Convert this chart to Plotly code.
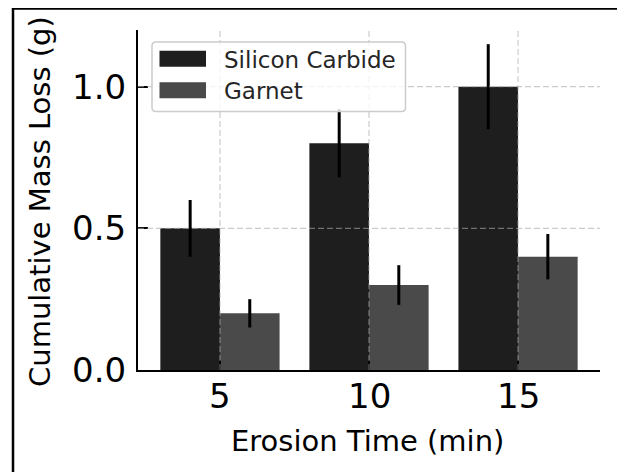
import plotly.graph_objects as go

# ---- data ----
categories = ["5", "10", "15"]
sic_values = [0.5, 0.8, 1.0]
sic_errors = [0.10, 0.12, 0.15]
garnet_values = [0.2, 0.3, 0.4]
garnet_errors = [0.05, 0.07, 0.08]
series_names = ["Silicon Carbide", "Garnet"]
y_ticks = [0.0, 0.5, 1.0]

FONT = "DejaVu Sans"
SIC_COLOR = "#1e1e1e"
GAR_COLOR = "#4a4a4a"

OFF = 8  # page body margin offset
W, H = 625, 472
PLOT_L, PLOT_R, PLOT_T, PLOT_B = 138, 600, 30, 370  # screen px of plot area
L = PLOT_L - OFF
T = PLOT_T - OFF
PW, PH = PLOT_R - PLOT_L, PLOT_B - PLOT_T
R = W - L - PW
B = H - T - PH

def px_x(px):
    return (px - PLOT_L) / PW

def px_y(py):
    return (PLOT_B - py) / PH

positions = list(range(len(categories)))

fig = go.Figure()
fig.add_trace(go.Bar(
    x=positions, y=sic_values, name=series_names[0],
    marker=dict(color=SIC_COLOR, line=dict(width=0)),
    error_y=dict(type="data", array=sic_errors, color="black", thickness=3, width=0),
))
fig.add_trace(go.Bar(
    x=positions, y=garnet_values, name=series_names[1],
    marker=dict(color=GAR_COLOR, line=dict(width=0)),
    error_y=dict(type="data", array=garnet_errors, color="black", thickness=3, width=0),
))

shapes = []
grid_line = dict(color="rgba(170,170,170,0.6)", width=1.2, dash="6px,3px")
for p in positions:
    shapes.append(dict(type="line", xref="x", yref="paper", x0=p, x1=p, y0=0, y1=1,
                       line=grid_line, layer="above"))
for v in y_ticks:
    if v > 0:
        shapes.append(dict(type="line", xref="paper", yref="y", x0=0, x1=1, y0=v, y1=v,
                           line=grid_line, layer="above"))

# legend box (rounded)
x0, x1 = px_x(152), px_x(405.5)
y0, y1 = px_y(111.5), px_y(42)
rx, ry = 4 / PW, 4 / PH
path = (f"M{x0+rx},{y1} L{x1-rx},{y1} Q{x1},{y1} {x1},{y1-ry} "
        f"L{x1},{y0+ry} Q{x1},{y0} {x1-rx},{y0} L{x0+rx},{y0} Q{x0},{y0} {x0},{y0+ry} "
        f"L{x0},{y1-ry} Q{x0},{y1} {x0+rx},{y1} Z")
shapes.append(dict(type="path", xref="paper", yref="paper", path=path,
                   fillcolor="rgba(255,255,255,0.8)", line=dict(color="#cccccc", width=1.5),
                   layer="above"))
legend_rows = [(series_names[0], SIC_COLOR, 50.7, 66.7, 59.5),
               (series_names[1], GAR_COLOR, 82.3, 98.3, 91)]
annotations = []
for name, col, ya, yb, yc in legend_rows:
    shapes.append(dict(type="rect", xref="paper", yref="paper",
                       x0=px_x(159.5), x1=px_x(206), y0=px_y(yb), y1=px_y(ya),
                       fillcolor=col, line=dict(width=0), layer="above"))
    annotations.append(dict(text=name, xref="paper", yref="paper", x=px_x(222), y=px_y(yc),
                            xanchor="left", yanchor="middle", showarrow=False,
                            font=dict(family=FONT, size=23, color="#262626")))

# x tick labels (placed at the category positions)
for p, lab in zip(positions, categories):
    annotations.append(dict(text=lab, xref="x", yref="paper", x=p, y=px_y(396),
                            xanchor="center", yanchor="middle", showarrow=False,
                            font=dict(family=FONT, size=34, color="black")))

# figure frame
shapes.append(dict(type="rect", xref="paper", yref="paper",
                   x0=px_x(13), x1=px_x(620), y0=px_y(500), y1=px_y(8.5),
                   line=dict(color="black", width=2.5), fillcolor="rgba(0,0,0,0)", layer="above"))

# axis titles
annotations.append(dict(text="Erosion Time (min)", xref="paper", yref="paper",
                        x=px_x(367.5), y=px_y(441), xanchor="center", yanchor="middle",
                        showarrow=False, font=dict(family=FONT, size=29, color="black")))
annotations.append(dict(text="Cumulative Mass Loss (g)", xref="paper", yref="paper",
                        x=px_x(40), y=px_y(202), xanchor="center", yanchor="middle",
                        textangle=-90, showarrow=False,
                        font=dict(family=FONT, size=29, color="black")))

fig.update_layout(
    width=W, height=H,
    margin=dict(l=L, r=R, t=T, b=B, pad=0),
    paper_bgcolor="white", plot_bgcolor="white",
    barmode="group", bargap=0.2, bargroupgap=0,
    showlegend=False,
    shapes=shapes, annotations=annotations,
    font=dict(family=FONT, color="black"),
)
fig.update_xaxes(
    range=[-0.55, 2.55], tickvals=positions, showticklabels=False,
    showgrid=False, zeroline=False,
    showline=True, linecolor="black", linewidth=2,
    ticks="inside", ticklen=10, tickwidth=1.5, tickcolor="black",
    layer="above traces",
)
fig.update_yaxes(
    range=[0, 1.2], tickvals=y_ticks, ticktext=[f"{v:.1f}" for v in y_ticks],
    showgrid=False, zeroline=False,
    showline=True, linecolor="black", linewidth=2,
    ticks="inside", ticklen=10, tickwidth=1.5, tickcolor="black",
    tickfont=dict(family=FONT, size=34, color="black"),
    ticklabelstandoff=3, layer="above traces",
)

fig.write_html("out.html")
